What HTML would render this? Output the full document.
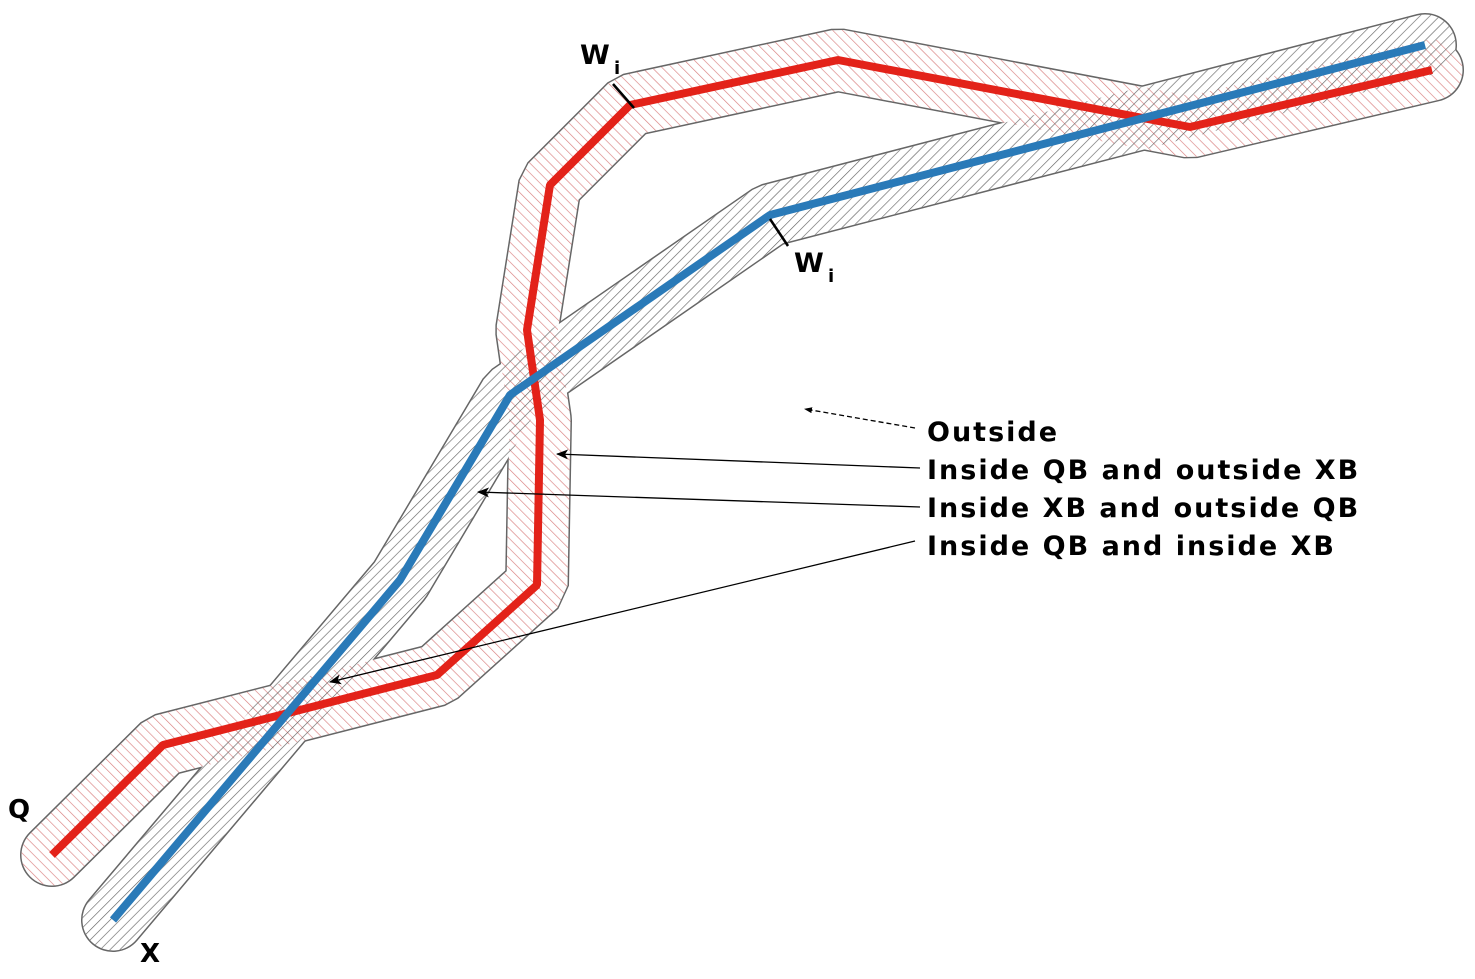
<!DOCTYPE html>
<html><head><meta charset="utf-8"><style>html,body{margin:0;padding:0;background:#fff}svg{display:block}text{font-family:"DejaVu Sans","Liberation Sans",sans-serif;font-weight:bold;fill:#000}</style></head><body>
<svg width="1475" height="979" viewBox="0 0 1475 979" xmlns="http://www.w3.org/2000/svg">
<defs>
<pattern id="hq" width="7" height="7" patternUnits="userSpaceOnUse" patternTransform="rotate(-45)"><line x1="0" y1="0" x2="0" y2="7" stroke="#d98080" stroke-width="1.3"/></pattern>
<pattern id="hx" width="7" height="7" patternUnits="userSpaceOnUse" patternTransform="rotate(45)"><line x1="0" y1="0" x2="0" y2="7" stroke="#666" stroke-width="1.3"/></pattern>
<marker id="ar" markerWidth="12" markerHeight="10" refX="11" refY="5" orient="auto" markerUnits="userSpaceOnUse"><path d="M0,0 L12,5 L0,10 L3,5 Z" fill="#000"/></marker>
<marker id="ar2" markerWidth="8" markerHeight="6" refX="7" refY="3" orient="auto" markerUnits="userSpaceOnUse"><path d="M0,0 L8,3 L0,6 Z" fill="#000"/></marker>
</defs>
<g fill="none" stroke-linecap="round" stroke-linejoin="bevel">
<polyline points="52,855 163,745 437,675 537,585 540,420 527,330 550,185 630,105 838,60 1190,127 1432,70" stroke="#666" stroke-width="64"/>
<polyline points="113,920 400,580 510,395 770,215 1425,45" stroke="#666" stroke-width="64"/>
<polyline points="52,855 163,745 437,675 537,585 540,420 527,330 550,185 630,105 838,60 1190,127 1432,70" stroke="#fff" stroke-width="61"/>
<polyline points="113,920 400,580 510,395 770,215 1425,45" stroke="#fff" stroke-width="61"/>
<polyline points="52,855 163,745 437,675 537,585 540,420 527,330 550,185 630,105 838,60 1190,127 1432,70" stroke="url(#hq)" stroke-width="61"/>
<polyline points="113,920 400,580 510,395 770,215 1425,45" stroke="url(#hx)" stroke-width="61"/>
<polyline points="52,855 163,745 437,675 537,585 540,420 527,330 550,185 630,105 838,60 1190,127 1432,70" stroke="#e32219" stroke-width="8" stroke-linecap="butt"/>
<polyline points="113,920 400,580 510,395 770,215 1425,45" stroke="#2a7ab8" stroke-width="8" stroke-linecap="butt"/>
</g>
<line x1="613" y1="84" x2="634" y2="108" stroke="#000" stroke-width="2.5"/>
<line x1="770" y1="219" x2="788" y2="246" stroke="#000" stroke-width="2.5"/>
<text x="580" y="64" font-size="27" letter-spacing="1">W</text><text x="614" y="74" font-size="18">i</text>
<text x="794" y="272" font-size="27" letter-spacing="1">W</text><text x="828" y="282" font-size="18">i</text>
<text x="8" y="818" font-size="26">Q</text>
<text x="140" y="962" font-size="26">X</text>
<g font-size="27" letter-spacing="2">
<text x="927" y="441">Outside</text>
<text x="927" y="479">Inside QB and outside XB</text>
<text x="927" y="517">Inside XB and outside QB</text>
<text x="927" y="555">Inside QB and inside XB</text>
</g>
<g stroke="#000" stroke-width="1.3" fill="none">
<line x1="915" y1="428" x2="805" y2="409" stroke-dasharray="5,3" marker-end="url(#ar2)"/>
<line x1="920" y1="468" x2="557" y2="454" marker-end="url(#ar)"/>
<line x1="920" y1="507" x2="478" y2="492" marker-end="url(#ar)"/>
<line x1="915" y1="541" x2="330" y2="682" marker-end="url(#ar)"/>
</g>
</svg>
</body></html>
